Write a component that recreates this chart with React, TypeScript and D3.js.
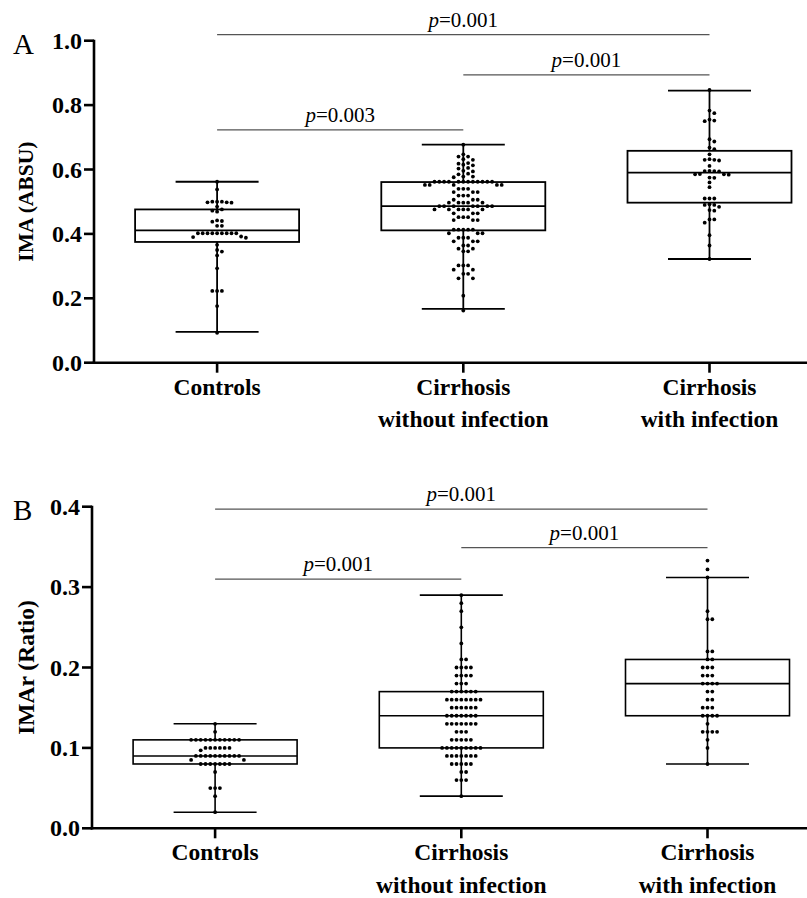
import React from "react";
import * as d3 from "d3";

// ---------- categories ----------
const categories = ["Controls", "Cirrhosis without infection", "Cirrhosis with infection"];
const categoryLines = [["Controls"], ["Cirrhosis", "without infection"], ["Cirrhosis", "with infection"]];

// ---------- Panel A: IMA (ABSU) ----------
const imaTicks = [0.0, 0.2, 0.4, 0.6, 0.8, 1.0];
const imaMin = [0.096, 0.167, 0.322];
const imaQ1 = [0.375, 0.411, 0.497];
const imaMedian = [0.411, 0.486, 0.59];
const imaQ3 = [0.476, 0.561, 0.658];
const imaMax = [0.562, 0.677, 0.845];

const imaControls = [
  0.562, 0.538, 0.5, 0.5, 0.498, 0.498, 0.5, 0.497, 0.485, 0.476, 0.469, 0.472,
  0.44, 0.442, 0.438, 0.425, 0.425, 0.402, 0.402, 0.402, 0.402, 0.402, 0.402,
  0.402, 0.402, 0.402, 0.39, 0.388, 0.392, 0.366, 0.35, 0.345, 0.333, 0.293,
  0.223, 0.223, 0.223, 0.176, 0.093,
];
const imaWithout = [
  0.677, 0.647, 0.64, 0.64, 0.63, 0.632, 0.62, 0.618, 0.613, 0.615, 0.605, 0.603,
  0.594, 0.596, 0.585, 0.587, 0.578, 0.578, 0.576,
  0.562, 0.562, 0.562, 0.562, 0.562, 0.562, 0.562, 0.562, 0.562, 0.562, 0.562, 0.562,
  0.552, 0.552, 0.552, 0.552, 0.552, 0.54, 0.54, 0.54, 0.53, 0.53, 0.53,
  0.519, 0.519, 0.519, 0.506, 0.506, 0.506, 0.497, 0.497, 0.497, 0.497, 0.497,
  0.486, 0.486, 0.486, 0.486, 0.486, 0.486, 0.486, 0.476, 0.476, 0.476, 0.476, 0.476, 0.476,
  0.464, 0.464, 0.464, 0.452, 0.452, 0.452, 0.443, 0.443, 0.443,
  0.413, 0.413, 0.413, 0.413, 0.413, 0.402, 0.402, 0.402, 0.388, 0.388, 0.388,
  0.377, 0.377, 0.377, 0.364, 0.364, 0.354, 0.354, 0.346, 0.346,
  0.302, 0.302, 0.302, 0.289, 0.289, 0.276, 0.276, 0.262, 0.262, 0.208, 0.162,
];
const imaWith = [
  0.847, 0.783, 0.775, 0.755, 0.75, 0.752, 0.687, 0.694, 0.668, 0.663, 0.647,
  0.63, 0.63, 0.628, 0.632, 0.611, 0.595, 0.595, 0.596, 0.594, 0.585, 0.585,
  0.584, 0.586, 0.574, 0.575, 0.56, 0.545, 0.51, 0.51, 0.51, 0.49, 0.49, 0.492,
  0.484, 0.474, 0.472, 0.445, 0.445, 0.435, 0.396, 0.364, 0.322,
];

// ---------- Panel B: IMAr (Ratio) ----------
const imarTicks = [0.0, 0.1, 0.2, 0.3, 0.4];
const imarMin = [0.02, 0.04, 0.08];
const imarQ1 = [0.08, 0.1, 0.14];
const imarMedian = [0.09, 0.14, 0.18];
const imarQ3 = [0.11, 0.17, 0.21];
const imarMax = [0.13, 0.29, 0.312];

const imarControls = [
  0.13, 0.12,
  0.11, 0.11, 0.11, 0.11, 0.11, 0.11, 0.11, 0.11, 0.11, 0.11, 0.11,
  0.1, 0.1, 0.1, 0.1, 0.1, 0.1, 0.097,
  0.09, 0.09, 0.09, 0.09, 0.09, 0.09, 0.09, 0.09, 0.09, 0.09,
  0.085, 0.085,
  0.08, 0.08, 0.08, 0.08, 0.08, 0.08, 0.08,
  0.07, 0.05, 0.05, 0.05, 0.04, 0.02,
];
const imarWithout = [
  0.29, 0.28, 0.27, 0.25, 0.23, 0.21, 0.21,
  0.2, 0.2, 0.2, 0.2, 0.19, 0.19, 0.19, 0.19, 0.18, 0.18, 0.18,
  0.17, 0.17, 0.17, 0.17, 0.17, 0.17,
  0.16, 0.16, 0.16, 0.16, 0.16, 0.16, 0.16, 0.16,
  0.15, 0.15, 0.15, 0.15, 0.15, 0.15,
  0.14, 0.14, 0.14, 0.14, 0.14, 0.14, 0.14,
  0.13, 0.13, 0.13, 0.13, 0.13, 0.13, 0.13,
  0.12, 0.12, 0.12, 0.11, 0.11, 0.11, 0.11, 0.11,
  0.1, 0.1, 0.1, 0.1, 0.1, 0.1, 0.1, 0.1, 0.1,
  0.09, 0.09, 0.09, 0.09, 0.09, 0.09, 0.09,
  0.08, 0.08, 0.08, 0.08, 0.08, 0.07, 0.07, 0.06, 0.06, 0.06, 0.04,
];
const imarWith = [
  0.333, 0.322, 0.312, 0.27, 0.26, 0.26, 0.22, 0.22, 0.21, 0.21,
  0.2, 0.2, 0.2, 0.19, 0.19, 0.19, 0.18, 0.18, 0.18, 0.18,
  0.17, 0.17, 0.16, 0.16, 0.15, 0.15, 0.15, 0.14, 0.14, 0.14, 0.14,
  0.13, 0.12, 0.12, 0.12, 0.12, 0.11, 0.1, 0.08,
];

// ---------- significance brackets ----------
const imaSigFrom = [0, 0, 1];
const imaSigTo = [2, 1, 2];
const imaSigLevel = [1.019, 0.723, 0.894];
const imaSigP = ["0.001", "0.003", "0.001"];

const imarSigFrom = [0, 0, 1];
const imarSigTo = [2, 1, 2];
const imarSigLevel = [0.397, 0.31, 0.349];
const imarSigP = ["0.001", "0.001", "0.001"];

const FONT = "'Liberation Serif', 'Times New Roman', serif";

function swarm(values: number[], cx: number, y: (v: number) => number, step: number) {
  const pts = values.map((v) => ({ v, y: y(v), x: cx })).sort((a, b) => a.y - b.y);
  const placed: { x: number; y: number }[] = [];
  const minD = step * 0.95;
  for (const p of pts) {
    for (let i = 0; i < 60; i++) {
      const k = i === 0 ? 0 : i % 2 === 1 ? (i + 1) / 2 : -(i / 2);
      const x = cx + k * step;
      let ok = true;
      for (const q of placed) {
        const dx = q.x - x;
        const dy = q.y - p.y;
        if (dx * dx + dy * dy < minD * minD) {
          ok = false;
          break;
        }
      }
      if (ok) {
        p.x = x;
        break;
      }
    }
    placed.push({ x: p.x, y: p.y });
  }
  return placed;
}

type PanelProps = {
  letter: string;
  title: string;
  titleSize: number;
  domainMax: number;
  yTop: number;
  yBottom: number;
  axisX: number;
  ticks: number[];
  mins: number[];
  q1: number[];
  med: number[];
  q3: number[];
  maxs: number[];
  points: number[][];
  sigFrom: number[];
  sigTo: number[];
  sigLevel: number[];
  sigP: string[];
  lw: number;
};

function Panel(p: PanelProps) {
  const y = d3.scaleLinear().domain([0, p.domainMax]).range([p.yBottom, p.yTop]);
  const band = 246.2;
  const x = d3.scaleBand<string>().domain(categories).range([p.axisX, p.axisX + band * 3]).padding(0);
  const cx = (i: number) => (x(categories[i]) as number) + x.bandwidth() / 2;
  const boxHW = 82;
  const capHW = 41.5;
  const fmt = d3.format(".1f");
  return (
    <g>
      <text x={13} y={p.yTop + 13} fontFamily={FONT} fontSize={29}>
        {p.letter}
      </text>
      <text
        transform={`translate(${26},${(p.yTop + p.yBottom) / 2}) rotate(-90)`}
        textAnchor="middle"
        dominantBaseline="central"
        fontFamily={FONT}
        fontWeight="bold"
        fontSize={p.titleSize}
      >
        {p.title}
      </text>
      {/* significance brackets */}
      {p.sigLevel.map((lv, i) => {
        const x1 = cx(p.sigFrom[i]);
        const x2 = cx(p.sigTo[i]);
        const yy = y(lv);
        return (
          <g key={"s" + i}>
            <line x1={x1} x2={x2} y1={yy} y2={yy} stroke="#555" strokeWidth={1.3} />
            <text x={(x1 + x2) / 2} y={yy - 8} textAnchor="middle" fontFamily={FONT} fontSize={21}>
              <tspan fontStyle="italic">p</tspan>={p.sigP[i]}
            </text>
          </g>
        );
      })}
      {/* boxes */}
      {categories.map((c, i) => {
        const xc = cx(i);
        return (
          <g key={c} stroke="#000" strokeWidth={p.lw} fill="none">
            <line x1={xc} x2={xc} y1={y(p.maxs[i])} y2={y(p.q3[i])} />
            <line x1={xc} x2={xc} y1={y(p.q1[i])} y2={y(p.mins[i])} />
            <line x1={xc - capHW} x2={xc + capHW} y1={y(p.maxs[i])} y2={y(p.maxs[i])} />
            <line x1={xc - capHW} x2={xc + capHW} y1={y(p.mins[i])} y2={y(p.mins[i])} />
            <rect x={xc - boxHW} y={y(p.q3[i])} width={boxHW * 2} height={y(p.q1[i]) - y(p.q3[i])} />
            <line x1={xc - boxHW} x2={xc + boxHW} y1={y(p.med[i])} y2={y(p.med[i])} />
          </g>
        );
      })}
      {/* dots */}
      {p.points.map((vals, i) =>
        swarm(vals, cx(i), y, 4.8).map((d, j) => <circle key={i + "-" + j} cx={d.x} cy={d.y} r={1.9} fill="#000" />)
      )}
      {/* axes */}
      <g stroke="#000" strokeWidth={2.6} fill="none">
        <line x1={p.axisX} x2={p.axisX} y1={p.yTop - 1} y2={p.yBottom + 1.3} />
        <line x1={p.axisX - 1.3} x2={810} y1={p.yBottom} y2={p.yBottom} />
        {p.ticks.map((t) => (
          <line key={"t" + t} x1={p.axisX - 10} x2={p.axisX} y1={y(t)} y2={y(t)} />
        ))}
        {categories.map((c, i) => (
          <line key={"xt" + c} x1={cx(i)} x2={cx(i)} y1={p.yBottom} y2={p.yBottom + 10} />
        ))}
      </g>
      {p.ticks.map((t) => (
        <text
          key={"tl" + t}
          x={p.axisX - 12}
          y={y(t)}
          textAnchor="end"
          dominantBaseline="central"
          fontFamily={FONT}
          fontWeight="bold"
          fontSize={24}
        >
          {fmt(t)}
        </text>
      ))}
      {categoryLines.map((lines, i) => (
        <text key={"cl" + i} textAnchor="middle" fontFamily={FONT} fontWeight="bold" fontSize={23.5}>
          {lines.map((l, k) => (
            <tspan key={k} x={cx(i)} y={p.yBottom + 32 + k * 32.5}>
              {l}
            </tspan>
          ))}
        </text>
      ))}
    </g>
  );
}

export default function App() {
  return (
    <svg
      width={807}
      height={898}
      style={{ position: "absolute", left: 0, top: 0, background: "#fff" }}
    >
      <rect width={807} height={898} fill="#fff" />
      <Panel
        letter="A"
        title="IMA (ABSU)"
        titleSize={21.5}
        domainMax={1.0}
        yTop={40.7}
        yBottom={362.7}
        axisX={94}
        ticks={imaTicks}
        mins={imaMin}
        q1={imaQ1}
        med={imaMedian}
        q3={imaQ3}
        maxs={imaMax}
        points={[imaControls, imaWithout, imaWith]}
        sigFrom={imaSigFrom}
        sigTo={imaSigTo}
        sigLevel={imaSigLevel}
        sigP={imaSigP}
        lw={1.8}
      />
      <Panel
        letter="B"
        title="IMAr (Ratio)"
        titleSize={23.5}
        domainMax={0.4}
        yTop={506.7}
        yBottom={828.3}
        axisX={92}
        ticks={imarTicks}
        mins={imarMin}
        q1={imarQ1}
        med={imarMedian}
        q3={imarQ3}
        maxs={imarMax}
        points={[imarControls, imarWithout, imarWith]}
        sigFrom={imarSigFrom}
        sigTo={imarSigTo}
        sigLevel={imarSigLevel}
        sigP={imarSigP}
        lw={1.6}
      />
    </svg>
  );
}
